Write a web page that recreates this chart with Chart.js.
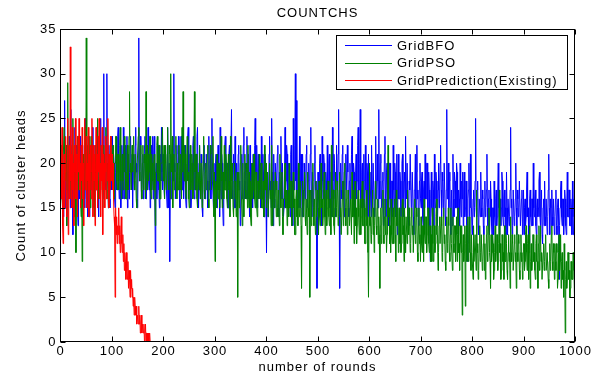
<!DOCTYPE html>
<html>
<head>
<meta charset="utf-8">
<script src="https://cdn.jsdelivr.net/npm/chart.js@4.4.1/dist/chart.umd.min.js"></script>
<style>
  html, body { margin: 0; padding: 0; background: #fff; }
</style>
</head>
<body>
<canvas id="countChart" width="600" height="375"></canvas>
<script>
// values, one per round (20 rounds a row)
const seriesNames = ['GridBFO', 'GridPSO', 'GridPrediction(Existing)'];
const seriesColors = ['#0000ff', '#008000', '#ff0000'];

const bfoValues = [
  20,16,17,21,23,18,14,20,27,15,19,22,13,18,22,17,16,23,21,15,
  26,18,15,21,12,19,20,14,24,17,17,22,21,15,13,20,19,16,23,18,
  18,21,22,16,15,20,20,15,25,18,16,22,19,14,23,17,14,21,21,17,
  17,21,24,18,19,15,15,22,22,17,18,23,21,16,14,20,20,17,25,19,
  19,22,16,20,30,17,21,18,17,23,30,19,18,15,22,16,15,21,20,17,
  23,18,17,21,20,16,15,19,22,17,19,23,24,18,16,20,21,15,18,22,
  20,16,24,19,16,21,22,17,18,23,15,20,21,16,19,22,23,18,17,21,
  15,20,21,17,18,22,24,19,20,15,16,21,34,18,19,23,22,16,17,20,
  21,16,18,22,23,19,16,20,20,17,24,18,17,21,15,19,22,17,19,23,
  16,21,23,18,10,19,20,16,18,22,22,17,15,20,21,18,24,19,17,21,
  20,17,16,21,22,18,18,15,24,19,15,20,9,18,21,16,17,22,23,18,
  30,20,19,16,16,21,22,17,18,23,20,16,15,19,23,18,17,22,21,16,
  18,21,22,16,15,19,20,23,24,18,17,21,21,15,16,20,19,22,23,17,
  16,20,21,17,19,23,24,18,15,20,22,16,18,21,20,15,14,19,19,22,
  22,16,17,21,21,18,15,20,23,17,19,22,16,19,25,18,18,15,20,17,
  17,20,21,16,15,19,22,17,19,14,24,18,16,21,20,15,13,19,18,22,
  23,18,17,20,20,15,15,21,22,16,18,22,26,17,16,20,21,15,19,23,
  15,19,20,16,17,21,22,17,18,13,14,20,21,16,19,22,24,18,16,20,
  20,16,23,17,16,21,18,14,22,17,15,20,19,15,21,16,17,22,25,19,
  18,22,15,19,21,16,17,20,20,15,23,18,16,21,19,14,14,18,21,16,
  10,17,19,14,16,21,23,17,18,15,25,19,17,13,21,16,15,20,20,17,
  17,21,22,15,14,19,19,16,23,18,16,20,20,14,15,19,24,17,18,22,
  21,15,16,20,19,17,14,21,22,16,18,13,25,19,17,22,30,18,27,16,
  16,19,20,15,23,17,15,21,18,14,21,17,14,20,19,16,17,21,22,15,
  15,18,20,16,17,21,24,17,14,19,19,15,16,20,22,17,18,14,6,16,
  19,16,15,20,21,17,17,13,23,18,16,21,20,15,14,19,18,16,22,17,
  17,20,21,15,15,19,19,14,24,18,16,21,20,16,14,18,22,17,18,21,
  26,17,6,15,20,17,16,21,22,16,18,14,15,20,21,17,17,22,19,15,
  14,18,20,16,17,21,23,17,16,20,19,14,15,19,21,16,18,22,24,17,
  17,20,26,16,15,19,20,15,18,21,14,18,22,17,16,20,19,14,21,17,
  15,19,19,14,22,17,16,20,20,15,14,18,23,16,17,21,18,15,26,18,
  16,20,21,15,15,18,19,13,17,21,23,16,14,19,20,15,18,13,16,20,
  20,15,13,18,18,14,22,17,15,20,19,14,17,21,12,17,21,16,16,19,
  18,14,15,20,21,16,14,18,19,15,23,17,16,20,20,14,13,18,17,21,
  21,15,16,19,19,14,12,17,18,21,15,19,22,16,17,13,14,18,20,16,
  15,18,19,14,13,17,18,15,21,16,16,20,20,15,14,19,17,13,9,16,
  19,15,14,18,17,13,21,16,15,19,18,14,13,17,20,15,16,20,22,17,
  14,19,18,15,16,20,20,14,13,17,26,16,17,20,15,18,19,14,12,17,
  17,13,21,16,14,19,18,15,15,20,19,14,12,17,16,13,20,16,14,18,
  16,19,13,17,19,14,15,18,18,13,9,16,17,20,14,17,21,15,15,12,
  13,16,17,14,15,18,25,15,14,17,18,13,12,16,16,14,19,15,14,17,
  16,13,12,16,18,14,15,17,21,15,13,16,17,12,14,18,16,13,11,15,
  15,12,18,14,13,16,17,13,14,17,20,15,12,16,16,13,15,19,18,14,
  13,16,17,14,15,12,19,15,12,16,16,13,14,17,24,15,16,12,13,17,
  17,13,14,16,20,15,12,17,16,14,15,18,18,13,13,16,17,12,14,17,
  12,15,16,13,14,17,19,14,15,12,11,16,17,14,13,16,16,13,20,15,
  14,16,17,13,12,15,16,14,15,18,19,14,13,16,17,12,11,15,16,13,
  18,14,13,16,16,12,14,17,21,15,12,16,15,13,17,14,13,16,16,12,
  14,16,17,13,12,15,16,14,7,13,15,17,18,14,13,16,16,12,14,17,
  16,13,12,15,19,14,14,17,17,13,13,16,15,12,18,14,12,16,15,13
];

const psoValues = [
  17,21,22,16,15,20,20,24,24,18,18,22,13,19,29,17,19,22,16,20,
  22,17,18,21,25,19,15,20,21,16,10,18,19,23,23,17,17,21,20,16,
  14,19,9,17,21,16,18,22,24,17,34,20,17,22,22,18,19,23,15,19,
  23,18,17,21,20,16,14,19,22,17,19,23,25,18,16,20,21,17,18,22,
  20,17,15,19,22,18,18,21,24,17,16,20,19,15,21,18,17,22,23,19,
  18,21,22,17,16,20,20,23,23,18,17,21,21,17,19,22,24,18,16,20,
  21,18,17,22,23,19,19,16,16,21,22,17,18,23,28,19,20,17,17,22,
  19,22,23,18,17,21,21,16,15,20,20,23,24,19,18,21,22,17,16,20,
  22,17,18,21,20,16,28,19,17,22,21,18,19,23,23,17,16,21,20,18,
  17,20,21,17,13,19,19,22,23,18,18,21,22,16,16,20,20,23,24,18,
  19,22,16,20,22,17,18,21,24,18,17,22,21,16,30,19,19,23,15,20,
  21,17,18,22,23,19,16,20,20,17,22,18,17,21,19,16,24,19,28,20,
  18,22,21,17,16,20,23,18,19,16,15,20,22,17,18,21,20,16,17,21,
  28,19,17,21,21,16,15,19,19,17,22,18,16,20,20,15,18,21,23,17,
  16,19,20,17,18,21,22,16,15,18,19,22,21,17,17,20,23,18,14,19,
  9,17,18,15,21,17,16,20,20,15,17,21,23,18,15,19,19,16,22,17,
  17,21,20,16,15,19,21,17,18,14,23,18,16,20,19,15,14,18,20,16,
  18,14,15,19,5,17,19,15,16,20,22,17,17,13,20,16,14,19,21,17,
  16,20,19,15,22,17,15,19,18,14,13,17,20,16,17,21,21,16,15,19,
  19,15,14,18,18,16,21,17,16,19,20,15,15,18,18,14,22,17,17,20,
  15,18,19,14,14,17,20,16,17,13,22,17,13,16,18,15,16,19,19,14,
  18,15,14,17,17,13,21,16,15,18,19,14,12,16,16,19,20,15,15,17,
  13,16,17,14,20,15,15,18,18,13,14,17,19,15,16,12,12,16,17,14,
  16,13,20,16,14,18,17,13,6,15,18,14,15,17,19,14,13,16,16,12,
  19,15,14,17,5,14,17,13,15,18,20,15,13,16,16,12,18,14,14,17,
  15,12,18,14,13,16,20,15,16,13,14,17,19,14,12,16,17,13,15,18,
  18,14,13,16,16,12,22,16,14,17,17,13,12,15,19,14,15,18,17,13,
  14,17,19,14,15,12,12,16,18,13,16,19,20,15,13,16,17,12,15,17,
  17,13,13,16,16,12,19,14,14,17,11,15,18,13,15,11,13,16,17,14,
  12,15,16,12,14,17,18,13,13,16,15,11,11,15,17,13,14,10,5,13,
  20,13,14,11,12,15,17,12,15,10,13,16,18,13,12,15,16,11,14,12,
  6,13,15,11,13,16,17,12,11,14,16,12,14,10,12,15,22,14,15,11,
  13,10,16,12,11,14,15,11,14,16,12,9,17,13,13,15,10,13,15,11,
  14,10,11,15,16,12,13,9,15,12,10,14,14,11,17,13,12,15,13,10,
  11,14,15,12,13,10,10,14,16,11,12,15,14,10,9,13,15,11,12,9,
  14,11,10,13,13,9,16,12,11,14,14,10,12,15,15,11,10,13,13,9,
  12,9,15,11,9,13,13,10,11,14,16,12,12,8,10,13,14,11,11,14,
  13,9,10,14,15,11,12,9,8,12,14,10,11,15,13,10,9,12,15,11,
  11,8,14,11,10,13,13,9,12,14,9,12,15,10,11,8,13,11,10,13,
  3,10,12,9,10,13,4,11,13,9,11,14,9,12,14,10,10,8,12,10,
  10,7,13,9,9,12,12,8,17,10,11,7,8,11,13,9,10,12,12,8,
  9,11,12,8,11,7,8,12,13,9,10,13,15,10,9,6,12,9,10,12,
  11,7,8,10,13,9,10,12,12,8,9,11,17,10,11,7,8,12,12,9,
  10,7,13,9,9,12,11,8,7,10,12,9,10,6,14,10,9,12,11,8,
  8,11,12,9,10,6,13,10,9,12,11,8,7,10,12,9,10,7,8,11,
  11,8,9,12,13,10,8,11,12,7,10,13,6,9,11,8,9,12,12,9,
  10,8,7,11,12,9,9,6,11,13,8,10,13,9,10,7,7,10,11,8,
  9,11,12,8,8,10,10,7,6,9,11,8,9,12,13,9,8,11,10,7,
  11,9,8,11,10,6,7,10,12,8,9,12,6,9,10,7,8,5,11,8,
  1,7,9,6,7,10,10,7,8,5,6,9,9,7,7,10,10,8,5,8
];

const predValues = [
  22,16,20,24,13,11,18,21,15,19,
  23,17,14,20,25,12,19,22,16,33,
  18,21,15,24,17,20,13,22,19,25,
  16,21,18,14,23,19,25,17,20,15,
  22,18,24,16,20,13,21,25,17,19,
  23,15,20,18,24,14,21,17,22,19,
  16,25,20,14,22,18,21,13,19,24,
  17,21,15,23,19,25,16,20,14,22,
  18,24,12,21,17,20,15,23,19,16,
  22,18,25,20,15,21,17,23,19,18,
  21,17,20,16,14,13,5,15,12,14,
  11,13,12,15,11,13,10,12,14,11,
  10,12,9,11,8,10,9,7,10,8,
  7,9,6,8,7,5,8,6,7,5,
  6,4,5,3,5,4,3,4,2,3,
  3,2,4,2,3,1,2,3,1,2,
  2,1,2,0,1,2,0,1,1,0,
  1,0,0,1,0,0,0
];

const xTicks = [0, 100, 200, 300, 400, 500, 600, 700, 800, 900, 1000];
const yTicks = [0, 5, 10, 15, 20, 25, 30, 35];

const chartTitle = 'COUNTCHS';
const xTitle = 'number of rounds';
const yTitle = 'Count of cluster heads';

const FONT = '13px "Liberation Sans", Arial, sans-serif';

// round number -> value pairs
function toPoints(values, first, step) {
    return values.map((v, i) => ({ x: first + i * step, y: v }));
}

// MATLAB style frame: box, inward ticks, tick labels, titles and a boxed legend
const matlabFrame = {
    id: 'matlabFrame',
    afterDraw(chart) {
        const { ctx, chartArea: a, scales: { x, y } } = chart;
        ctx.save();
        ctx.letterSpacing = '1px';
        ctx.strokeStyle = '#000';
        ctx.lineWidth = 1;

        const L = Math.round(a.left) + 0.5, R = Math.round(a.right) - 0.5;
        const T = Math.round(a.top) + 0.5, B = Math.round(a.bottom) - 0.5;
        ctx.strokeRect(L, T, R - L, B - T);

        ctx.beginPath();
        xTicks.forEach(v => {
            const px = Math.round(x.getPixelForValue(v)) + 0.5;
            ctx.moveTo(px, B); ctx.lineTo(px, B - 5);
            ctx.moveTo(px, T); ctx.lineTo(px, T + 5);
        });
        yTicks.forEach(v => {
            const py = Math.round(y.getPixelForValue(v)) + 0.5;
            ctx.moveTo(L, py); ctx.lineTo(L + 5, py);
            ctx.moveTo(R, py); ctx.lineTo(R - 5, py);
        });
        ctx.stroke();

        ctx.fillStyle = '#000';
        ctx.font = FONT;

        // tick labels
        ctx.textAlign = 'center';
        ctx.textBaseline = 'top';
        xTicks.forEach(v => ctx.fillText(String(v), x.getPixelForValue(v) + 0.5, B + 3));
        ctx.textAlign = 'right';
        ctx.textBaseline = 'middle';
        yTicks.forEach(v => ctx.fillText(String(v), L - 4, y.getPixelForValue(v)));

        ctx.textAlign = 'center';
        const cx = (a.left + a.right) / 2;
        ctx.fillText(chartTitle, cx, 13);
        ctx.fillText(xTitle, cx, 367);

        ctx.save();
        ctx.translate(21, (a.top + a.bottom) / 2);
        ctx.rotate(-Math.PI / 2);
        ctx.fillText(yTitle, 0, 0);
        ctx.restore();

        // legend
        const box = { left: 336, top: 35, right: 568, bottom: 90 };
        ctx.fillStyle = '#fff';
        ctx.fillRect(box.left, box.top, box.right - box.left, box.bottom - box.top);
        ctx.strokeRect(box.left + 0.5, box.top + 0.5, box.right - box.left - 1, box.bottom - box.top - 1);
        ctx.textAlign = 'left';
        chart.data.datasets.forEach((ds, i) => {
            const ry = 45 + i * 17.5;
            ctx.strokeStyle = ds.borderColor;
            ctx.beginPath();
            ctx.moveTo(345, Math.round(ry) + 0.5);
            ctx.lineTo(392, Math.round(ry) + 0.5);
            ctx.stroke();
            ctx.fillStyle = '#000';
            ctx.fillText(ds.label, 397, ry + 1);
        });
        ctx.restore();
    }
};

const ctx = document.getElementById('countChart');

new Chart(ctx, {
    type: 'line',
    data: {
        datasets: [
            { label: seriesNames[0], data: toPoints(bfoValues, 1, 1), borderColor: seriesColors[0], order: 3 },
            { label: seriesNames[1], data: toPoints(psoValues, 1, 1), borderColor: seriesColors[1], order: 2 },
            { label: seriesNames[2], data: toPoints(predValues, 1, 1), borderColor: seriesColors[2], order: 1 }
        ]
    },
    options: {
        responsive: false,
        animation: false,
        layout: { padding: { left: 60, right: 25, top: 29, bottom: 33 } },
        elements: {
            point: { radius: 0, hoverRadius: 0 },
            line: { borderWidth: 1, tension: 0, fill: false }
        },
        plugins: {
            legend: { display: false },
            tooltip: { enabled: false }
        },
        scales: {
            x: {
                type: 'linear',
                min: 0,
                max: 1000,
                afterFit: s => { s.height = 0; },
                grid: { display: false, drawTicks: false },
                border: { display: false },
                ticks: { display: false }
            },
            y: {
                min: 0,
                max: 35,
                afterFit: s => { s.width = 0; },
                grid: { display: false, drawTicks: false },
                border: { display: false },
                ticks: { display: false }
            }
        }
    },
    plugins: [matlabFrame]
});
</script>
</body>
</html>
